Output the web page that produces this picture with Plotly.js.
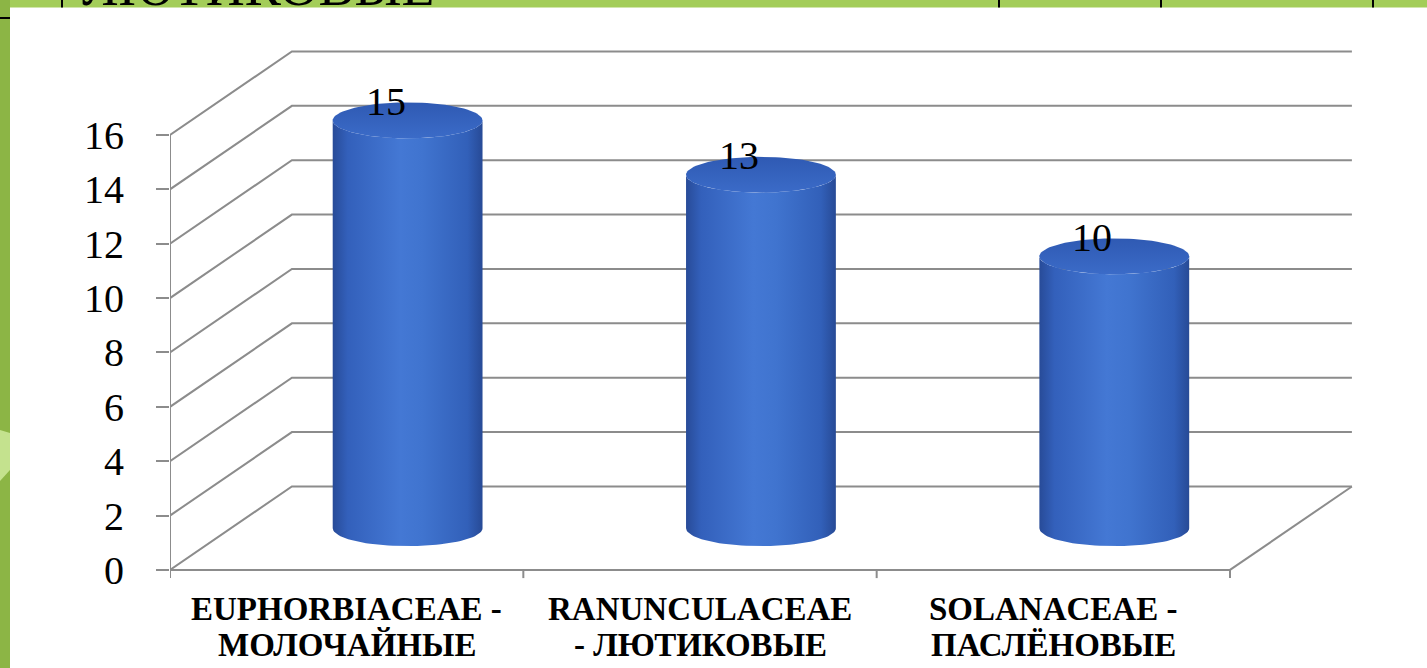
<!DOCTYPE html>
<html>
<head>
<meta charset="utf-8">
<script src="https://cdn.plot.ly/plotly-3.0.1.min.js"></script>
<style>html,body{margin:0;padding:0;background:#fff;}#chart{width:1427px;height:668px;}</style>
</head>
<body>
<div id="chart"></div>
<script>
// ---- data ----
const categories = ['EUPHORBIACEAE -<br>МОЛОЧАЙНЫЕ', 'RANUNCULACEAE<br>- ЛЮТИКОВЫЕ', 'SOLANACEAE -<br>ПАСЛЁНОВЫЕ'];
const values = [15, 13, 10];
const yTicks = [0, 2, 4, 6, 8, 10, 12, 14, 16];
const headerText = 'ЛЮТИКОВЫЕ';

// ---- layout constants ----
const FONT = 'Liberation Serif';
const W = 1427, H = 668;
const L = 170, R = 67, T = 40, B = 88;
const plotW = W - L - R, plotH = H - T - B;
const pxPerX = 1060 / 3;      // pixels per category unit
const pxPerY = 435 / 16;      // pixels per value unit
const xMin = -0.5, xMax = xMin + plotW / pxPerX;
const yMin = -0.37, yMax = yMin + plotH / pxPerY;
const DX = 0.345, DY = 3.07;  // depth offset (oblique projection)
const HW = 0.212, RY = 0.66;  // cylinder half width, ellipse radius
const nCat = categories.length;

const px2x = p => (p - L) / plotW;
const px2y = p => (H - B - p) / plotH;

const traces = [];

// ---- walls / floor grid ----
const gx = [], gy = [];
yTicks.forEach(v => {
  gx.push(xMin, xMin + DX, nCat - 0.5 + DX, null);
  gy.push(v, v + DY, v + DY, null);
});
gx.push(xMin, xMin, null); gy.push(0, yTicks[yTicks.length - 1], null);
gx.push(xMin, nCat - 0.5, null); gy.push(0, 0, null);
gx.push(nCat - 0.5, nCat - 0.5 + DX, null); gy.push(0, DY, null);
for (let i = 0; i <= nCat; i++) {
  gx.push(xMin + i, xMin + i, null); gy.push(0, -0.3, null);
}
traces.push({x: gx, y: gy, type: 'scatter', mode: 'lines',
  line: {color: '#8c8c8c', width: 2}, hoverinfo: 'skip'});

// ---- cylinders ----
const N = 48;
const annotations = [];
values.forEach((v, i) => {
  const cx = i + 0.5 * DX, base = 0.5 * DY, top = base + v;
  const bx = [], by = [];
  for (let k = 0; k <= N; k++) {
    const t = Math.PI + Math.PI * k / N;
    bx.push(cx + HW * Math.cos(t)); by.push(base + RY * Math.sin(t));
  }
  for (let k = 0; k <= N; k++) {
    const t = 2 * Math.PI - Math.PI * k / N;
    bx.push(cx + HW * Math.cos(t)); by.push(top + RY * Math.sin(t));
  }
  bx.push(bx[0]); by.push(by[0]);
  traces.push({x: bx, y: by, type: 'scatter', mode: 'lines', fill: 'toself',
    line: {width: 0, color: 'rgba(0,0,0,0)'}, hoverinfo: 'skip',
    fillgradient: {type: 'horizontal', colorscale: [
      [0, '#284b98'], [0.1, '#3360bb'], [0.45, '#4478d4'], [0.6, '#4074cf'], [0.9, '#3260b9'], [1, '#274a96']]}});
  const cxs = [], cys = [];
  for (let k = 0; k <= 2 * N; k++) {
    const t = 2 * Math.PI * k / (2 * N);
    cxs.push(cx + HW * Math.cos(t)); cys.push(top + RY * Math.sin(t));
  }
  traces.push({x: cxs, y: cys, type: 'scatter', mode: 'lines', fill: 'toself',
    line: {width: 0, color: 'rgba(0,0,0,0)'}, hoverinfo: 'skip',
    fillgradient: {type: 'vertical', colorscale: [[0, '#3b6bc8'], [1, '#2f5ab3']]}});
  annotations.push({x: cx, y: top, xref: 'x', yref: 'y', text: String(v),
    showarrow: false, xshift: -22, yshift: 19, xanchor: 'center', yanchor: 'middle',
    font: {family: FONT, size: 40, color: '#000'}});
});

// ---- category labels (two lines each) ----
const lineY = [608.5, 645];
categories.forEach((c, i) => {
  c.split('<br>').forEach((ln, j) => {
    annotations.push({x: i, y: px2y(lineY[j]), xref: 'x', yref: 'paper', text: '<b>' + ln + '</b>',
      showarrow: false, xanchor: 'center', yanchor: 'middle',
      font: {family: FONT, size: 33, color: '#000'}});
  });
});

// header remnant text
annotations.push({x: px2x(80), y: px2y(7), xref: 'paper', yref: 'paper', text: headerText,
  showarrow: false, xanchor: 'left', yanchor: 'bottom', yshift: -12,
  font: {family: FONT, size: 54, color: '#000'}});

// ---- background decoration ----
const green = '#a3cd59', strip = '#8cb545';
const shapes = [
  {type: 'rect', xref: 'paper', yref: 'paper', x0: px2x(0), x1: px2x(W), y0: px2y(0), y1: px2y(7.5),
    fillcolor: green, line: {width: 0}, layer: 'below'},
  {type: 'rect', xref: 'paper', yref: 'paper', x0: px2x(0), x1: px2x(10), y0: px2y(0), y1: px2y(H),
    fillcolor: strip, line: {width: 0}, layer: 'below'},
  {type: 'path', xref: 'paper', yref: 'paper', layer: 'below', line: {width: 0}, fillcolor: '#c4e28e',
    path: `M ${px2x(0)} ${px2y(430)} L ${px2x(10)} ${px2y(433)} L ${px2x(10)} ${px2y(470)} L ${px2x(0)} ${px2y(481)} Z`},
  {type: 'line', xref: 'paper', yref: 'paper', x0: px2x(0), x1: px2x(10), y0: px2y(18), y1: px2y(18),
    line: {color: '#000', width: 2}, layer: 'below'}
];
[62, 999, 1161, 1373].forEach(p => shapes.push({type: 'line', xref: 'paper', yref: 'paper',
  x0: px2x(p), x1: px2x(p), y0: px2y(0), y1: px2y(7.5), line: {color: '#000', width: 2}, layer: 'below'}));

const layout = {
  width: W, height: H,
  margin: {l: L, r: R, t: T, b: B, pad: 0},
  paper_bgcolor: '#ffffff', plot_bgcolor: 'rgba(0,0,0,0)',
  font: {family: FONT},
  showlegend: false, hovermode: false,
  xaxis: {range: [xMin, xMax], showgrid: false, zeroline: false, showline: false,
    showticklabels: false, ticks: '', fixedrange: true},
  yaxis: {range: [yMin, yMax], showgrid: false, zeroline: false, showline: false,
    tickmode: 'array', tickvals: yTicks, ticktext: yTicks.map(String),
    ticks: 'outside', ticklen: 13, tickwidth: 2, tickcolor: '#8c8c8c', ticklabelstandoff: 24,
    tickfont: {family: FONT, size: 40, color: '#000'},
    fixedrange: true},
  shapes: shapes,
  annotations: annotations
};

Plotly.newPlot('chart', traces, layout, {displayModeBar: false, staticPlot: true});
</script>
</body>
</html>
